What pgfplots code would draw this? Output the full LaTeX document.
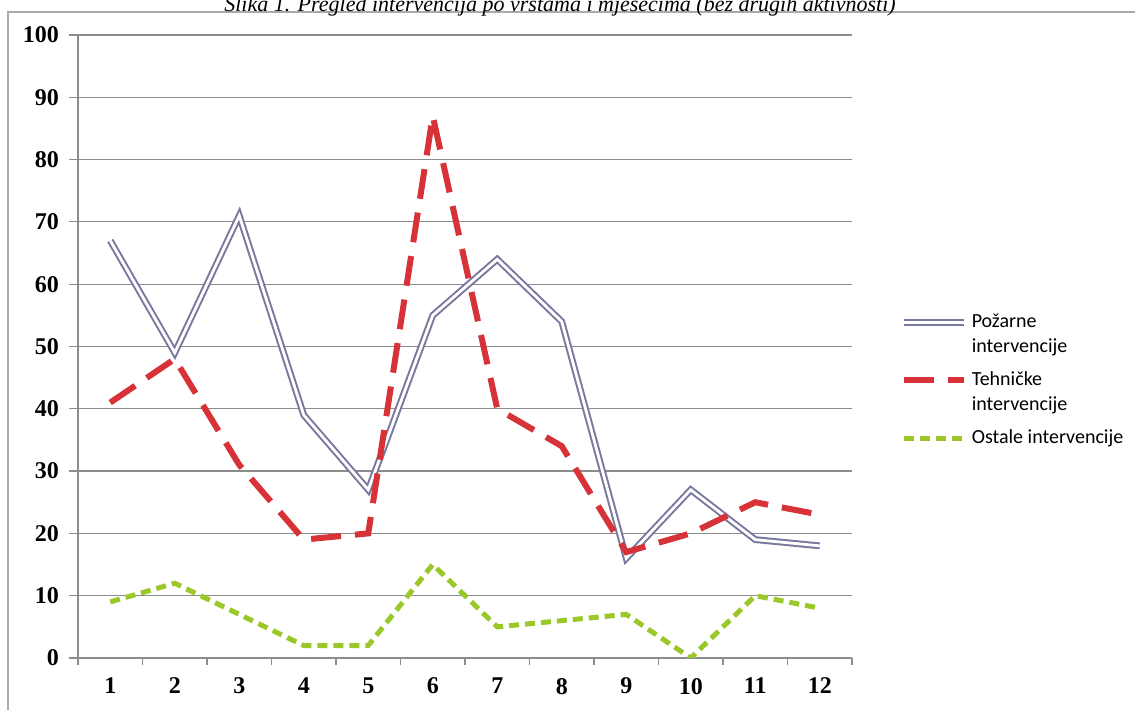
\documentclass[border=0pt]{standalone}
\usepackage{fontspec}
\setmainfont{Liberation Serif}
\newfontfamily\calibri{Carlito}
\usepackage{pgfplots}
\pgfplotsset{compat=1.18}
\definecolor{pozar}{RGB}{120,120,160}
\definecolor{tehn}{RGB}{215,50,56}
\definecolor{ostale}{RGB}{154,200,40}
\definecolor{gridgray}{RGB}{140,140,140}
\definecolor{framegray}{RGB}{170,170,170}
% legend line raised to the first of two text lines
\pgfplotsset{twoline legend/.style={legend image code/.code={\draw[##1] (0pt,6.25pt) -- (30pt,6.25pt);}}}

\begin{document}
\begin{tikzpicture}
\path[use as bounding box] (0pt,0pt) rectangle (567.5pt,355pt);
\draw[framegray, line width=1pt] (4pt,-10pt) rectangle (600pt,349pt);
\node[font=\itshape\fontsize{11}{13}\selectfont, anchor=base] at (280pt,349pt)
  {Slika 1. Pregled intervencija po vrstama i mjesecima (bez drugih aktivnosti)};
\begin{axis}[
  scale only axis,
  width=387pt, height=311.5pt,
  at={(39pt,26pt)}, anchor=south west,
  xmin=0.5, xmax=12.5, ymin=0, ymax=100,
  xtick={1,...,12},
  minor xtick={0.5,1.5,...,12.5},
  major x tick style={draw=none},
  ytick={0,10,...,100},
  ymajorgrids,
  grid style={gridgray, line width=0.6pt},
  axis x line*=bottom, axis y line*=left,
  axis line style={gridgray, line width=0.6pt, -},
  tick align=outside,
  tick style={gridgray, line width=0.6pt},
  major tick length=4.5pt, minor tick length=3.5pt,
  /pgf/number format/assume math mode=true,
  tick label style={font=\fontsize{12}{14}\selectfont\bfseries},
  yticklabel style={xshift=-1.5pt},
  xticklabel style={yshift=-2pt},
  legend style={draw=none, fill=none, at={(1.055,0.565)}, anchor=north west,
    font=\calibri\fontsize{10}{12.5}\selectfont, nodes={align=left},
    row sep=4pt},
  legend cell align=left,
  legend image code/.code={\draw[#1] (0pt,0pt) -- (30pt,0pt);},
]
\addplot[pozar, line width=1pt, double=white, double distance=1.4pt, twoline legend]
  coordinates {(1,67) (2,49) (3,71) (4,39) (5,27) (6,55) (7,64) (8,54) (9,16) (10,27) (11,19) (12,18)};
\addlegendentry{Požarne\\intervencije}
\addplot[tehn, line width=3pt, dash pattern=on 15pt off 7pt, twoline legend]
  coordinates {(1,41) (2,48) (3,31) (4,19) (5,20) (6,87) (7,40) (8,34) (9,17) (10,20) (11,25) (12,23)};
\addlegendentry{Tehničke\\intervencije}
\addplot[ostale, line width=2.5pt, dash pattern=on 5pt off 3pt]
  coordinates {(1,9) (2,12) (3,7) (4,2) (5,2) (6,15) (7,5) (8,6) (9,7) (10,0) (11,10) (12,8)};
\addlegendentry{Ostale intervencije}
\end{axis}
\end{tikzpicture}
\end{document}
